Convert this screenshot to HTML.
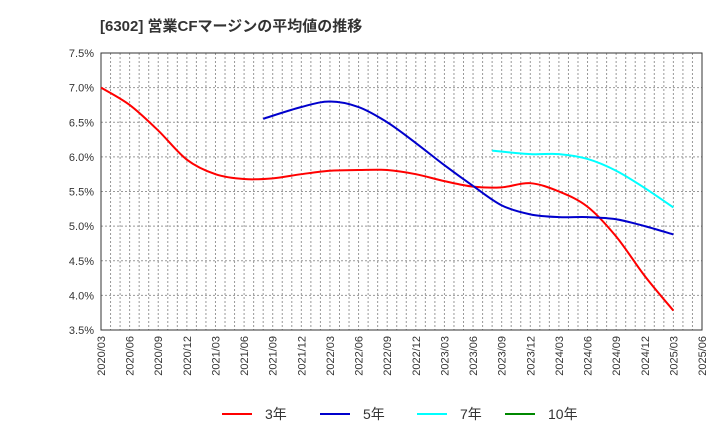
<!DOCTYPE html>
<html><head><meta charset="utf-8"><style>
body{margin:0;background:#fff;font-family:"Liberation Sans","Noto Sans CJK JP",sans-serif;}
</style></head><body>
<svg width="720" height="440" xmlns="http://www.w3.org/2000/svg" id="c" font-family="Liberation Sans, Noto Sans CJK JP, sans-serif">
<text x="100" y="31" font-size="15" font-weight="bold" fill="#333">[6302]  営業CFマージンの平均値の推移</text>
</svg>
<script>
const yTicks=[3.5,4.0,4.5,5.0,5.5,6.0,6.5,7.0,7.5];
const xLabels=["2020/03","2020/06","2020/09","2020/12","2021/03","2021/06","2021/09","2021/12","2022/03","2022/06","2022/09","2022/12","2023/03","2023/06","2023/09","2023/12","2024/03","2024/06","2024/09","2024/12","2025/03","2025/06"];
const s3Months=[0,3,6,9,12,15,18,21,24,27,30,33,36,39,42,45,48,51,54,57,60];
const s3Values=[7.0,6.75,6.38,5.96,5.75,5.68,5.69,5.75,5.8,5.81,5.81,5.75,5.65,5.57,5.56,5.62,5.5,5.28,4.85,4.28,3.78];
const s5Months=[17,21,24,27,30,33,36,39,42,45,48,51,54,57,60];
const s5Values=[6.55,6.72,6.8,6.72,6.5,6.2,5.88,5.58,5.3,5.17,5.13,5.13,5.1,5.0,4.88];
const s7Months=[41,45,48,51,54,57,60];
const s7Values=[6.09,6.04,6.04,5.97,5.8,5.55,5.27];
const s10Months=[];
const s10Values=[];
const L=101,R=702,T=53,B=330;
const X=m=>L+(R-L)*m/63;
const Y=v=>B-(B-T)*(v-3.5)/4.0;
const svg=document.getElementById('c');const NS="http://www.w3.org/2000/svg";
function mk(t,a){const e=document.createElementNS(NS,t);for(const k in a)e.setAttribute(k,a[k]);svg.appendChild(e);return e;}
for(let m=1;m<63;m++){const g=mk('line',{x1:X(m),x2:X(m),y1:T,y2:B,stroke:'#999','stroke-dasharray':'2,2','stroke-width':1});

}
yTicks.forEach(v=>{const g=mk('line',{x1:L,x2:R,y1:Y(v),y2:Y(v),stroke:'#999','stroke-dasharray':'2,2'});


const t=mk('text',{x:L-7,y:Y(v)+4,'text-anchor':'end','font-size':11,fill:'#333'});t.textContent=v.toFixed(1)+'%';

});
const fr=mk('rect',{x:L,y:T,width:R-L,height:B-T,fill:'none',stroke:'#333'});


xLabels.forEach((s,i)=>{const x=X(i*3);const t=mk('text',{transform:`translate(${x+4},${B+6}) rotate(-90)`,'text-anchor':'end','font-size':11,fill:'#333'});t.textContent=s;

});
function path(ms,vs){const p=ms.map((m,i)=>[X(m),Y(vs[i])]);if(!p.length)return'';let d=`M${p[0][0]},${p[0][1]}`;
for(let i=0;i<p.length-1;i++){const p0=p[i-1]||p[i],p1=p[i],p2=p[i+1],p3=p[i+2]||p2;
d+=` C${p1[0]+(p2[0]-p0[0])/6},${p1[1]+(p2[1]-p0[1])/6} ${p2[0]-(p3[0]-p1[0])/6},${p2[1]-(p3[1]-p1[1])/6} ${p2[0]},${p2[1]}`;}return d;}
const series=[[s3Months,s3Values,'#f00','series-3y'],[s5Months,s5Values,'#00c','series-5y'],[s7Months,s7Values,'#0ff','series-7y'],[s10Months,s10Values,'#080','series-10y']];
series.forEach(s=>{if(!s[0].length)return;const e=mk('path',{d:path(s[0],s[1]),fill:'none',stroke:s[2],'stroke-width':2});

});
const leg=[['3年','#f00',222],['5年','#00c',320],['7年','#0ff',417],['10年','#080',505]];
leg.forEach(l=>{const ln=mk('line',{x1:l[2],x2:l[2]+30,y1:414,y2:414,stroke:l[1],'stroke-width':2});


const t=mk('text',{x:l[2]+43,y:419,'font-size':14,fill:'#333'});t.textContent=l[0];

});
</script>
</body></html>
